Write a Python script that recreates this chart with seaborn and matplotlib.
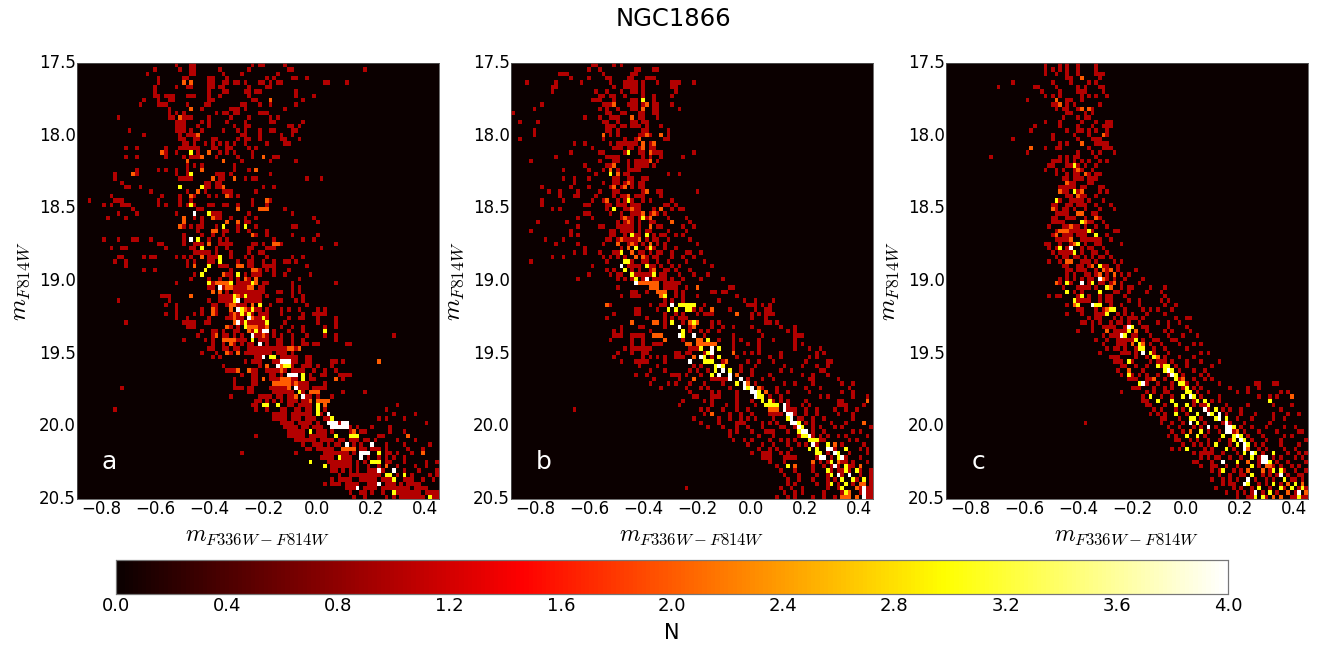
import numpy as np
import pandas as pd
import matplotlib
matplotlib.use('Agg')
import matplotlib.pyplot as plt
import seaborn as sns

# cells, one string per magnitude row (top to bottom)
# each token is a colour bin, "30-33" is a run of bins, ":n" is the count (default 1)
rows_a = [
 "27 31 32 48 50 51 57",
 "21 28 31 32 39 47 58 59 79",
 "19 31 32 40 45 55",
 "22 29 30 36 37 41 52 54 59 60 63",
 "22 29:2 31:2 36 37 40 41 43 44 46 50 51 53 55 56 68 69 74",
 "21 27 30 31 36 37 39 40 47 52 53",
 "21 36 40 41 46 47 49 50 60",
 "21 22 24-26 30-32 36 39 47 60 65",
 "18 22 25 26 36 37 48 49 53:2 62",
 "17 22-24 30 35 36 45 46 50 53 60",
 "25 31:2 34 42 46 43 44 57",
 "25 27 29 38 40 41 44 43 50 51 52",
 "11 25 26 28:2 29-31 36 42 47 53 55",
 "27 28 29 34 36 41 46 53 54 62",
 "27-29 33 36 43 46 47 58 59 61",
 "14 27-29 31 34 40 44 46 50 53 54 59 60",
 "18 28 30-32 33:2 46 50 45 56 59",
 "28 29 32 33 37 38 46 47 44 50 56 57 61",
 "29 30 32 35 37 39 41 43 46 52 57 58",
 "13 16 24 28-31 32 33 37 38 41 42 47 49",
 "23:2 24 27 31:3 33 36:2 39 41 43 48",
 "13 16 24 29 31-33 34:2 38 44 48 51:2 54 55",
 "30:2 40:2 45 53 60",
 "30 32 34 43",
 "16 22 24 27 30 34:2 43 47 49:2",
 "10 15:2 16 27 30 31:3 38-40 42 53",
 "10 28-31 37:2 39 40 43:2 46 48 49 63 67",
 "12 35 36 38 39",
 "13 14 17 28:3 34:3 35 36 38 39 40:2 51 54",
 "20 30 33:2 35 40-42 49",
 "9 23 28 31:2 32 36 38 41:2 42 44",
 "3 10-12 22 28 31 48 52:2 53",
 "7 9 12-14 22 24 28 30 31:3 32 36 37 40 41 44 48 52",
 "15 33 34 44:2 50:2 51:2 52:2 57",
 "11 16 27 32:4 36:3 37-39 47 59",
 "8 13 29:2 32 34 37:2 38 39 42 46 49 65",
 "29:2 34 41:2 44:2 46 47 66",
 "28:2 29 31 33 34 38 40:3 44 46:3 49 59 60",
 "33 37:2 38:2 40 41 44 47 52",
 "29 34 37 40 48:2 49 52 59 66",
 "7 11 15 16 20 29 31:4 33:3 36 39 41 54 62 65",
 "22 23 29 32-34 36:2 39-42 48 49 51 54:2 55:2 56 71",
 "9 12 13 24 31 32 34:3 38 41 47 48 52-54 67",
 "32-36 38 42 47 50 51",
 "11 12 18 20 21 27 29 31 34:2 36-38 39:3 42 46 48 52 59 62",
 "10 13 30 32 36 37 39:3 44 47 48 51 54 57 58 60",
 "13 30 32:2 36:3 39-41 44:2 45:2 47 48 51-54 63",
 "18 21 35:3 42 48:2 49:2 50 52 54 58",
 "32 34:3 40:2 41 42 44:3 46 48-50 54 57 64",
 "31 36 39 42 44 46:2 47 49:2 61",
 "27 36:3 37 38-42:2 42:3 44-47 48:3 49:2 51 52 59 71",
 "36 37 39:4 40 41:2 42:2 43 44-46 47:2 48:2 50 51 59 61",
 "37:2 39:2 41 43 44 45-50 51 55 56 59 61",
 "23-25 31:2 39-42 43:3 44:2 45 46:3 47-50 52 59 62",
 "11 25 36 39-42 43:3 44:4 46 47-50 55 56 60 62",
 "24 27 37 38 41 42:2 43:2 44 45 46 48:2 50:3 53 63",
 "27 34 37:2 38 42:2 44:4 45:3 46:2 47 48:3 49 50 52 56 58 61 66 68",
 "24 27 32 34 37:2 38 42 43:2 44 45:3 46 47:3 48 50-52 56 62 65-68",
 "27 30 36 41 42 43:2 44 45 47:4 48:2 49 50 51:3 52 58 61 62 66 71",
 "13 29-32 35 36 43:2 44:4 45 46:3 47 48-51 52:3 57 66 71",
 "30-32 41:2 42 44 46:3 47:2 48:2 49:2 50 51 52:2 56 59 62 68 71",
 "34 37 38 40 43 44 47:2 48 49:3 50 51:4 52:4 54 58 62 68:3",
 "33 37 38:2 40 41 43 45 48:4 49 50 51:2 52 54 56 59 63 68 71 87",
 "29 35 37 40-43:2 44 45 46 48:3 50 51 52 55 56 59 62 71",
 "37 40 42:2 43 45 47 48 50:4 52 55 56 59 62 63 65 66 74 75",
 "36 37 40 41 43 44 47-49 50 51 52 53-57 58:2 59:2 60 61:2",
 "34 38 41:2 42 44:2 46 47 48-52 53 55-57 59",
 "37 39 49 50 51:4 53:3 54:3 56 57 58-60 63 64",
 "46 48 49 50 54-55 56:4 57:4 58:4 59 60 63 64 70 71 73 83:2",
 "40 50 52:2 55:4 56:2 57:3 58:3 59 62-64 66 70",
 "41-43 44:2 47:2 48 49 52-57 56:2 59-62 65 68 71",
 "45 48 49 53 54 56 58-60:4 62:3 64 67 68 72-75",
 "43 48 49 51:2 53-55 56-58:2 59 60 62:3 64 65 71:2 73",
 "43 48 49 54-58:2 59 60:2 61 62 63 68",
 "12 43-45 47 48 53-56 57 58:2 60:4 61 62 63 65-68",
 "47 48 54-58 59 61:3 62 64-66:2 73 79",
 "42 50 51-53 55 56 58 59 60:2 62:4 63 64 66 70",
 "49 50 52 54 56 58-60 62 63 64:2 66-69:2",
 "48 49 51:3 52:3 55:3 58 59 61-63 64 66:3 68:2 88",
 "10 49 52 56 57 60 61 63 64 66:3 68 85",
 "54-57 59-62 63 64 66:3 67 69:4 87 93",
 "54-57 59 60 61 63-65 68 69 70:3 83 85 90",
 "56-58 59 61-64 66 69-71:4 72 73-74:4 96",
 "57-60 62 63 65-67 70-74:4 75 77 81 86",
 "58-61 62 64:3 66-68 70 75 76:2 78 79 86 90",
 "49 58 59-62 64 65 66-68 71:3 75-77:3 83 84 91:2",
 "60-62 63-65 67-70 72 73 75-77 79 80 82 88 93",
 "62 65-67 69 71 72 74:4 76 78 81:4 85 90 97",
 "63-64 66-67 68-70 73-76:2 78 79 81-83 85 91 95",
 "45 60 68-72 73 74 76 78-80:4 83:3 85 86 88 92 95:2",
 "67-69 70 72:3 73-75 78:4 80 83 85 87 90",
 "64:3 69 70-74 75 77 79 81-83:3 85 86 90 96 99",
 "68:3 70-74 75 77 80 83 85:2 88 93 96",
 "70-71 73 75 77 80-82 83:4 84 87:4 90 94 99",
 "72 75-79 80-83 85-86:3 88 90:3 92 97 99",
 "70 72-74 75 78 79-81 82 84-86 87:3 90-92 95 98",
 "68 70-72 74-77 80-82 83:4 85-87 89 91-93 94",
 "74-76 77:4 79-82 84-87 88-91 93-96",
 "75 78 79 81 84 87:3 88-90 91-94 96-99",
 "76 79 85 87 89-94 95 97:3 98 99",
]

rows_b = [
 "22 23 28 30",
 "21 24 34 35 39 40",
 "13 14 15 25 33 34",
 "16 21 26 27 32 33 37 38 39",
 "4 12 19 27 31-34 36 40 44 45 46 50",
 "11 12 28 31-34 36 44 45",
 "11 23 26 30 33 34 36 45",
 "24 25 27 28 31 36 39 44",
 "22-24 28 33 34 36:3 39",
 "8 25-27 28:2 32-34 36 37:2 39 40 44",
 "6 24 26 29 33 34 36:2 39 40 46",
 "0 26 27 30 31 35 36 39 40",
 "20 24 27 28 29 33:2 35 36 40",
 "2 7 25 26 29 33 34 36 37",
 "26 27 28 30 31 33 34 35 37 41",
 "6 26 27 29 36 37 43",
 "6 25:2 27 29 35-37 37:2 38 41:2 43",
 "2 25 31 34 35:2 42 43",
 "17 20 27 29-31 32 33 34 36:2 38 39:2",
 "22 28-30 32-33 35 36:2 38 39",
 "16 24 25 31 32:3 35 36 38:2 39 40 41 50",
 "12 26 27-29 36 38 41 47",
 "5 24 28 29 32 34-37 38:2 40",
 "20 26 27 28:2 32 34-37 39",
 "14 21 25 27:2 29 32 33 34 35",
 "23 27:3 29:2 31 32 43 46",
 "14 17 21 28 29 32 33 36 37",
 "17 25 28 29 31-33 32:2 35 36",
 "8 16 21 27 28:2 30 31:2 33 35 36",
 "10 13 18 24 28 29 36 37:2 40 41 51",
 "13 17 18 23 28 30 31 32:2 34 35 36 41",
 "8 14 22 25 26:2 29 31 32:3 33 36 38 44",
 "8 20 21 26 27 29 30 31 33 34 35 42 43 45",
 "11 13 26 28:3 31 32 33:2 34 35 39 41:2 44 46 47",
 "20 21 27 30 33 34 35 36:2 38 39:2 40 42",
 "18 22 30 31:2 32 33 35 36:3 37 38:2 43 48",
 "7 15 29 31 32:2 33 35 38 39 44:2 49",
 "18 24 25 29 30 31 32 33 35 38:2 40 41 47 50",
 "5 16 27 28 30 31-33 35 37 38 43 48",
 "16 18 27 28 31 33:3 34 35 37:3 39 41 42 45 47",
 "9 14 26 27 29 30:2 31 32 33 34 35:2 37 39 40 43 49",
 "12 18 25 29:2 32 33:2 34 36 38:2 40 42 51",
 "20 30 32:2 34:3 37 38:3 39 42 45",
 "17 20 24 28 29 30:3 33:2 35 36 38 40 41 44 49 48 52",
 "11 14 25 27 29 31 34:2 36:2 37 39 40 44 47 50",
 "5 26 31:3 32:3 33 36 37 40 43 48 53",
 "22 30:4 32-34 35 37:3 38 39 41 44 46 55",
 "26 28 31:3 33 35 38 39:2 42 43 45 49",
 "21 27 29 30 33:3 34-38 39:3 41 42 46 50 54",
 "18 29 31 33 34:3 36 37:4 39 40 41 42 44 47 52 58",
 "34:4 35-40:2 42-46",
 "29 38-40:2 42-45 48 51:2 60 61",
 "33 34 37 40-42:2 45 47 55 56 58 59",
 "30 33-35 41:2 42:3 45 47 51 62",
 "42 44 47 57 64 67 72",
 "26:2 27 38 41 42 44:4 46-50:3 53 65-67 69 71",
 "34 35 40 43:3 45:3 48:3 49:3 50 52 55:2 60 67 70 71",
 "28 34 35 42 45 47 51 53-55 62:2 66 68 70-72",
 "26 37 42 44 46-48 66 70",
 "33:2 39:2 40:2 42 44:3 47 49:2 50:3 51:2 55 57 70 71 73",
 "30 35 36 42 46:4 49 50:2 55 58 61 66 74 78",
 "28 30 38 47:3 49 52 54 57 68 76 78",
 "28-30 33-36 39-41:2 46:4 47:3 50:4 53 61 69 78-80",
 "27 33 36 42:2 47 51:2 52:2 54:3 57 61 63 68 72 78",
 "33 36 39-41 48:2 49:2 51-56:2 61 65 68 78 80",
 "31 33-35 36-38 49-52 52:3 55:4 57:3 61 68 78 82 85",
 "29 33 36 37 45 46 48 49 53 54:3 55:4 61:2 64 66 68 74 84 86",
 "28 36 38 40 42 45-47 50:2 52:4 53:3 55 57:3 62 71 74 82 84",
 "30 34 35-37 42 49:4 53:3 54:3 55:3 58 59:2 65 68 72 81 87 88",
 "35 40 50 52 56:3 57:4 58:3 63 67 75 80 84 87",
 "38 42 49 51 54 56:3 58:4 60:3 63 66 74 77 85 86",
 "34 37 44-46 48 52 55:3 57:4 60:4 62:2 66 71 80 83 87",
 "39 46 50:2 55 56-59 60:4 63:4 65 69 72 82 83 90",
 "38 43 45 49 53 58 62:3 64:4 65:2 67 75 78 83 91 94",
 "41 48 52 54 60 64:4 65:3 66:4 68:2 69 73 81 85 93",
 "49 55 57 62 66:4 67:4 68:3 70:2 73 76 82 91 94",
 "50-51 55-57 62 67:4 68:3 69:3 71 74 85 87 94 98",
 "47 53 55 62 66 69:3 71:3 72 74 76 81 90-91 98:2",
 "46 55 59 62 67 70-73:3 75:4 76 80 82 90-92 97",
 "17 52 54 58 62 65 71-73:2 75:4 76-78 81 84 89 92 95",
 "53 55:2 60 63 66 71-74 76:4 77:4 78 81 84 90 94",
 "50 57 60 63 65 67 72 76:3 77:4 79 80 83 86 94",
 "52 57 62-64 69 71 73 77:4 78:4 79:3 81 83 88 92 97:2",
 "54 58 62 65 69 74 75 78 79:4 80:3 83 85 89 91 99",
 "60 62 66 70-72 76 79:3 80:4 81:4 83 86 94 96",
 "60 68 72 79 80:3 81:3 82:4 83 85 87 90 92 98",
 "61 64 66 71 74 76 78 82:3 83:3 84:3 85 86 93 95",
 "65 69 72 76 79 81 83:4 84 87:3 89:2 91 97",
 "68 71 73 77 82:3 84:3 87:4 88:4 89 92:3 96 98",
 "66 69-71 74 76 84:3 85:3 87 89:4 90:3 93 98",
 "69-71 75-78 84 85:4 86:4 88 90:3 91:4 92 96",
 "71 75 83:2 85 87 88:3 90:2 91 92 94 98",
 "73 76:3 78:2 83 86 88 89:4 90 92:3 93 94 96:2",
 "74 78 83 87:3 88 90-93 92:3 95:3 96 99",
 "75 79 84 87 88:3 90:4 91 93:4 96 99",
 "76 79 83 87 89 91:3 94:3 95 97:3 99",
 "76 78 84 87 88:3 90 92:3 94 96:2 97:2 99",
 "48 74 77 80 87 90 91:3 95:2 96 97:4 98 99",
 "75 78 80 86 91 92:3 93:2 96 97:4 98 99",
 "73 76 78 83 86 89 91-93:2 95:2 97:4 98-99",
]

rows_c = [
 "27 31 33 36 41",
 "27 29 31 33 36 41",
 "27 30 33 36 41 42 43",
 "33 34 37:2 42",
 "18 29 34 39 41",
 "14 24 25 30 36 38 42 43",
 "26 31 36 37 38 43",
 "27 29 31 37 39 41 44",
 "22 30:2 33 34 37",
 "29 30 31:2 33 35 42",
 "30 32 33 36 37:2 39:2 40",
 "33 34 38 40",
 "32 36 38 39",
 "27 31 37 41 44 45",
 "24 31 36 40 43 44 45",
 "23 33 36 37 39 41 44",
 "29 35 39 43:2 44",
 "18 29 36 41 42 40",
 "31 33 37:2 41 42 43 44",
 "23:2 27 30 31 39 43 44 45",
 "22 36 40 42 46",
 "12 31 33 35 36 41",
 "29 30 31 33 35 37 39 42 44",
 "28 29 33 34 35:3 36 38 41",
 "27 30 32 35 37 36:2 40",
 "30 33 35 36 38:2 39 41 42",
 "32 33 35 36 37 39-41",
 "33:2 34 35 39 40",
 "31-34 35 37 38 42 43",
 "31:2 32 33 35:3 36 37:2 42 44",
 "33 34 36:2 37 38 41",
 "30:3 31 34 35 36 37 39 43",
 "29 30 33 34 36-38 41 45",
 "29:2 30 32 33 35 38 42 46",
 "30 31-33 36:2 37:2 40 41",
 "29 30 33 34 35 38 41:2 42",
 "29 30 31 32 37:3 38:2 39 40 43",
 "28 32 33 34:2 35 36 38 41 44",
 "30 31-33:2 33 34 35 36-38 39:3 40 46 47",
 "29 30:2 32 33 34 36 37 38 41:3 44",
 "30 31 32 33 34:2 37 38 39-42 45",
 "27 28 31 34 35:2 36:3 38 41 42 48",
 "28 30 31:3 33 34:4 37 39 40 43",
 "29 31-33 34 35:3 37 40 41 44",
 "30 32 33 35 36 38 40 42 45 43",
 "28 31 33:2 34:2 37 38 39 41 46 48",
 "32 33 36 37 39 40:2 42:3 43 44 47",
 "33 34 36 37 38 41 43:2 44 45:2 47 52",
 "33 35 38 39 41 42:2 44 46:2 48 50",
 "31 33 35 37 39 40 42:4 43:2 44 46 49 54",
 "30:2 31 33:3 34 37:4 39 40:3 42 43 45 46:2 48 53",
 "32 36-39 41 44:3 45:2 48 50 51 56 60",
 "33:3 35 37 42:3 46 47 50 55 59",
 "28 30 31 36 37:3 39 42 45 44 49 60",
 "35:3 36-38 39 42 44 45 50 53 59 61",
 "33 35:2 36:3 40:4 41:3 42:3 45 48 53 60 63",
 "36 37 41 43 44:2 45:3 46:3 49 54 56 58 62",
 "33 37 41-43 44:3 47 49 51 55 60",
 "39 41 42 46 48 50-52 54 63 66 67",
 "37 38 40 42 45 47 48 50 53 58 61 64",
 "40 43 45 44-46 49 50:4 51:3 54 55 61 66",
 "36 40 44:2 46-49 50:3 52:2 55 60 62 67",
 "43 45 46 47 48:4 49:3 51 52 56 61 65 69",
 "41 44 47-51 52:3 54 57 58 62 63",
 "43 47 48 49 51:2 53:3 54:2 56 59 64 68 70",
 "44 46 47 49 52 53:3 54:3 57 60 66",
 "42 48 49 50 52 54:4 56:3 57 61 70 72",
 "45 47 46 52 55 57:3 58:2 60 64 68",
 "46 47 48 50:3 51 56 58-60 62 66 70 75",
 "48 49 52 55 58:3 59 60:3 61:3 63 66 73",
 "50 47 50:2 54 60:3 61:4 62:3 64 68 71",
 "48 50:3 51 53 55 58 61 62:4 63:3 65 70 72",
 "50-52 55 56 57:2 60 63:3 64 65:2 68 71 73",
 "53:3 54:4 55 58 62 64:3 65:3 66 69 75 85 86 90 91",
 "51-53 57 60 62 65 66:3 68 70 78 83 86",
 "48 55 57 60 61 66:3 67:3 69 72 80 83 92 94",
 "54 56:3 59 62 65:3 67:4 68:3 70 75 86 89 91 95:2",
 "54 55 58:3 62:3 68 69:3 71:3 73 75 89:3",
 "55 56 60 63:3 66:3 68 70 71 72:3 77 83 90 95",
 "57 59 63 65 67:3 71:4 72 74:3 76 78 81 92",
 "56 58 60 63:3 66 69:3 72:4 73:3 75:4 77 81 85 90 94 97",
 "59 60 64 67:3 68:3 70 74:3 75:4 77:3 80 84 90 93",
 "38 59 62 65 67:4 69:3 71 76 77:4 78 82 89",
 "61 64 68 70 72:4 74 77:4 78:4 79:3 81 84 88 93 96",
 "62 65 67:2 70:3 72 75 77:4 78:4 79 80:2 82 86 91 97 98",
 "61 63 66:3 69:3 71 76:3 79:3 80:4 81:3 83 87 93 95",
 "63 64 67 69 72 75 78 79:3 81:4 82:3 84 88 92 99",
 "65 68 70 72 74:3 78 80:3 82:4 83:3 85 87 92 97",
 "62 64 66:3 71 73 77:3 79 82:4 83:2 86 88 93 96",
 "68 70-73 76 80 82:3 84:4 85:3 87 90:3 94 97 99",
 "70 72 74 75 78 81 84:3 86 87:4 88:4 90 92 96 98",
 "68 69 73 76:4 80:3 83:2 86 87:4 88:4 89:3 91 94 99",
 "70 73 74 77 80 84:3 86 88:2 89:2 90 92 95 97",
 "73 75 76:3 79 81 83:2 87:2 89 90:3 92:3 93 96 99",
 "75 78 81 82 84:3 87 89 91 92:4 94 97 98",
 "73 76 78 80 83:4 85 88 90 93:3 95 96 98",
 "76 78 79 82:4 83:3 86 88 90:3 92 94:2 96:3 98:2",
 "74 79 81 84 86:3 89 92:3 93 95:3 97 98:3 99",
 "77 80 82 84 85:4 87 89:3 91 94:2 96 97:4 99:2",
 "80 83 84 85:3 87:3 88 90:2 92:2 95 96 97:3 98 99",
 "68 84 86 89 91:3 93 95:3 97:3 98:3 99",
]

panel_names = ['a', 'b', 'c']
cbar_ticks = [0.0, 0.4, 0.8, 1.2, 1.6, 2.0, 2.4, 2.8, 3.2, 3.6, 4.0]
color_ticks = [-0.8, -0.6, -0.4, -0.2, 0.0, 0.2, 0.4]
mag_ticks = [17.5, 18.0, 18.5, 19.0, 19.5, 20.0, 20.5]
color_lim = (-0.89, 0.45)
mag_lim = (17.5, 20.5)
n_bins = 100


def make_grid(rows):
    grid = np.zeros((n_bins, n_bins))
    for i, row in enumerate(rows[:n_bins]):
        for tok in row.split():
            val = 1
            if ':' in tok:
                tok, val = tok.split(':')
            if '-' in tok:
                lo, hi = tok.split('-')
            else:
                lo, hi = tok, tok
            for c in range(int(lo), int(hi) + 1):
                if c < n_bins:
                    grid[i, c] = max(grid[i, c], int(val))
    return grid


color_edges = np.linspace(color_lim[0], color_lim[1], n_bins + 1)
mag_edges = np.linspace(mag_lim[0], mag_lim[1], n_bins + 1)

plt.rcParams['mathtext.fontset'] = 'cm'
W, H = 1326, 650
fig = plt.figure(figsize=(W / 100, H / 100), dpi=100)
lefts = [77, 511, 946]
cax = fig.add_axes([116 / W, 1 - 594 / H, 1112 / W, 34 / H])

for k, rows in enumerate([rows_a, rows_b, rows_c]):
    ax = fig.add_axes([lefts[k] / W, 1 - 499 / H, 362 / W, 436 / H])
    df = pd.DataFrame(make_grid(rows), index=mag_edges[:-1], columns=color_edges[:-1])
    sns.heatmap(df, ax=ax, cmap='hot', vmin=0, vmax=4, cbar=k == 0,
                cbar_ax=cax if k == 0 else None,
                cbar_kws={'orientation': 'horizontal', 'ticks': cbar_ticks})
    ax.set_xticks([(v - color_lim[0]) / (color_lim[1] - color_lim[0]) * n_bins for v in color_ticks])
    ax.set_xticklabels(['%.1f' % v if v >= 0 else '\u2212%.1f' % -v for v in color_ticks], rotation=0, fontsize=12)
    ax.set_yticks([(v - mag_lim[0]) / (mag_lim[1] - mag_lim[0]) * n_bins for v in mag_ticks])
    ax.set_yticklabels(['%.1f' % v for v in mag_ticks], rotation=0, fontsize=12)
    ax.tick_params(length=0, pad=1)
    ax.set_xlabel(r'$m_{F336W-F814W}$', fontsize=17, labelpad=3)
    ax.set_ylabel(r'$m_{F814W}$', fontsize=18, labelpad=5)
    for s in ax.spines.values():
        s.set_visible(True)
        s.set_linewidth(0.6)
        s.set_color('#555555')
    ax.text(0.09, 0.085, panel_names[k], color='white', fontsize=18,
            transform=ax.transAxes, ha='center', va='center')

cax.tick_params(labelsize=13, length=0, pad=2)
cax.set_xlabel('N', fontsize=15, labelpad=6)
for s in cax.spines.values():
    s.set_visible(True)
    s.set_linewidth(0.8)
    s.set_color('#777777')

fig.text(673.5 / W, 1 - 19 / H, 'NGC1866', fontsize=17.5, ha='center', va='center')
fig.savefig('out.png', dpi=100)
